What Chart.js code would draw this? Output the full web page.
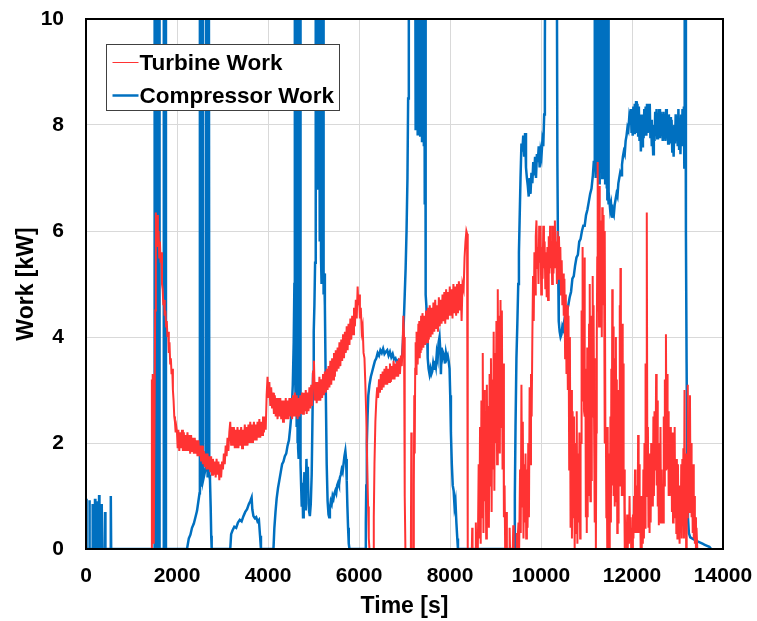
<!DOCTYPE html>
<html>
<head>
<meta charset="utf-8">
<script src="https://cdn.jsdelivr.net/npm/chart.js@4.4.1/dist/chart.umd.min.js"></script>
<style>
  html, body { margin: 0; padding: 0; background: #ffffff; }
  canvas { display: block; }
</style>
</head>
<body>
<canvas id="workChart" width="757" height="621"></canvas>
<script>
// Axis ticks
const timeTicks = [0, 2000, 4000, 6000, 8000, 10000, 12000, 14000];
const workTicks = [0, 2, 4, 6, 8, 10];

// Series labels
const seriesLabels = ['Turbine Work', 'Compressor Work'];

// Turbine work [time s, kW] : start-up and first steady phase
const turbineEarly = [
  [0,0],[1440,0],[1448,3.2],[1455,0.2],[1462,3.3],[1470,0.5],[1490,0.1],[1520,4.5],[1535,6.35],[1550,5.9],[1565,6.3],[1580,5.7],[1595,6.0],[1610,5.5],[1625,5.8],[1640,5.4],[1655,5.6],[1670,5.0],[1685,4.9],[1700,4.6],[1715,4.7],[1730,4.4],[1745,4.5],[1760,4.2],[1775,4.3],[1790,4.0],[1805,4.1],[1820,3.7],[1835,3.9],[1850,3.5],[1865,3.6],[1880,3.3],[1895,3.4],[1910,3.0],[1925,2.8],[1940,2.5],[1955,2.4],[1970,2.2],[1985,2.3],
  [2000,2.2],[2015,1.9],[2030,2.25],[2050,1.85],[2070,2.2],[2090,1.9],[2110,2.25],[2130,1.85],[2150,2.2],[2170,1.85],[2190,2.15],[2210,1.85],[2230,2.2],[2250,1.85],[2270,2.15],[2290,1.8],[2310,2.15],[2330,1.85],[2350,2.1],[2370,1.8],[2390,2.1],[2410,1.8],[2430,2.05],[2450,1.75],[2470,2.05],[2490,1.75],[2510,1.95],[2530,1.65],[2550,1.95],[2570,1.6],[2590,1.85],[2610,1.55],[2630,1.8],[2650,1.5],[2670,1.8],[2690,1.5],[2710,1.75],[2730,1.45],[2750,1.75],[2770,1.4],[2790,1.7],[2810,1.4],[2830,1.65],[2850,1.35],[2870,1.7],[2890,1.4],[2910,1.65],[2930,1.3],[2950,1.6],[2970,1.35],[2990,1.65],[3010,1.5],[3030,1.8],[3050,1.6],[3070,1.95],[3090,1.75],[3110,2.1],[3130,1.85],[3150,2.2],[3170,2.4],[3190,1.95],[3210,2.3],[3230,1.95],[3250,2.3],[3270,1.9],[3290,2.25],[3310,1.9],[3330,2.3],[3350,1.9],[3370,2.25],[3390,1.95],[3410,2.3],[3430,1.9],[3450,2.25],[3470,1.95],[3490,2.35],[3510,1.95],[3530,2.3],[3550,1.95],[3570,2.35],[3590,2.0],[3610,2.4],[3630,2.0],[3650,2.35],[3670,2.0],[3690,2.4],[3710,2.05],[3730,2.35],[3750,2.05],[3770,2.4],[3790,2.1],[3810,2.45],[3830,2.1],[3850,2.4],[3870,2.15],[3890,2.5],[3910,2.2],[3930,2.5],[3950,2.25],
  [3970,2.9],[3990,3.25],[4010,2.85],[4030,3.15],[4050,2.7],[4070,3.05],[4090,2.65],[4110,2.95],[4130,2.55],[4150,2.9],[4170,2.5],[4190,2.85],[4210,2.45],[4230,2.85],[4250,2.5],[4270,2.85],[4290,2.45],[4310,2.8],[4330,2.4],[4350,2.8],[4370,2.45],[4390,2.85],[4410,2.45],[4430,2.8],[4450,2.45],[4470,2.85],[4490,2.5],[4510,2.85],[4530,2.45],[4550,2.9],[4570,2.5],[4590,2.95],[4610,2.5],[4630,2.9],[4650,2.45],[4670,2.85],[4690,2.5],[4710,2.9],[4730,2.55],[4750,2.95],[4770,2.55],[4790,2.95],[4810,2.6],[4830,3.0],[4850,2.55],[4870,2.95],[4890,2.6],[4910,3.05],[4930,2.65],[4950,3.1],[4970,2.7],[4990,3.35],[5010,3.55],[5030,2.8],[5050,3.15],[5070,2.75],[5090,3.15],[5110,2.8],[5130,3.25],[5150,2.8],[5170,3.2],[5190,2.85],[5210,3.3],[5230,2.9],[5250,3.35],[5270,2.95],[5290,3.4],[5310,3.0],[5330,3.45],[5350,3.05],[5370,3.55],[5390,3.1],[5410,3.6],[5430,3.2],[5450,3.7],[5470,3.25],[5490,3.75],[5510,3.35],[5530,3.8],[5550,3.4],[5570,3.9],[5590,3.45],[5610,3.95],[5630,3.55],[5650,4.05],[5670,3.6],[5690,4.1],[5710,3.7],[5730,4.2],[5750,3.75],[5770,4.25],[5790,3.85],[5810,4.35],[5830,3.95],[5850,4.4],[5870,4.05],[5890,4.55],[5910,4.2],[5930,4.7],[5950,4.35],[5970,4.95],[5985,4.6],[6000,4.8],[6020,4.35],[6040,4.55],[6060,4.1],[6080,4.2],[6100,3.7],[6120,3.6],[6140,3.1],[6160,2.5],[6180,1.6],[6200,0.8],[6215,0.2],[6230,0]
];

// Turbine work : second and third steady phases
const turbineMid = [
  [6310,0],[6325,0.6],[6340,1.6],[6360,2.4],[6380,2.8],[6400,3.05],[6420,2.85],[6440,3.2],[6460,2.95],[6480,3.3],[6500,3.0],[6520,3.35],[6540,3.05],[6560,3.4],[6580,3.1],[6600,3.45],[6620,3.1],[6640,3.4],[6660,3.15],[6680,3.5],[6700,3.15],[6720,3.45],[6740,3.2],[6760,3.55],[6780,3.2],[6800,3.5],[6820,3.25],[6840,3.55],[6860,3.25],[6880,3.6],[6900,3.3],[6920,3.65],[6940,3.45],[6960,3.9],[6975,4.4],[6990,4.0],[7000,2.5],[7010,1.0],[7020,0],
  [7140,0],[7150,2.2],[7158,0],[7195,0],[7205,1.2],[7215,2.9],[7225,1.8],[7235,3.4],[7245,3.9],[7255,3.3],[7265,4.1],[7275,3.5],[7285,4.1],[7295,3.5],[7305,4.25],[7315,3.6],[7325,4.3],[7335,3.6],[7345,4.2],[7355,3.7],[7365,4.4],[7375,3.75],[7395,4.45],[7415,3.8],[7435,4.4],[7455,3.85],[7475,4.5],[7495,3.9],[7515,4.55],[7535,3.95],[7555,4.6],[7575,4.0],[7595,4.55],[7615,4.05],[7635,4.65],[7655,4.1],[7675,4.7],[7695,4.15],[7715,4.6],[7735,4.1],[7755,4.75],[7775,4.2],[7795,4.7],[7815,4.25],[7835,4.8],[7855,4.3],[7875,4.85],[7895,4.25],[7915,4.9],[7935,4.35],[7955,4.85],[7975,4.4],[7995,4.95],[8015,4.4],[8035,4.9],[8055,4.35],[8075,5.0],[8095,4.45],[8115,4.95],[8135,4.4],[8155,5.0],[8175,4.45],[8195,5.05],[8215,4.5],[8235,5.0],[8255,4.3],[8275,5.0],[8300,4.9],[8320,5.5],[8340,5.8],[8360,6.0],[8375,5.95],[8385,2.0],[8395,0]
];

// Turbine work : transient operation
const turbineLate = [
  [8480,0],[8488,0.4],[8496,0],[8560,0],[8568,0.5],[8576,0],[8612,0],
  [8630,1.6],[8645,0.2],[8660,2.3],[8675,0.1],[8690,2.8],[8705,0.6],[8720,3.7],[8735,0.3],[8750,3.0],[8765,0.9],[8780,2.6],[8795,0.2],[8810,3.1],[8825,1.0],[8840,2.7],[8855,0.4],[8870,3.3],[8885,1.2],[8900,3.6],[8915,0.7],[8930,3.2],[8945,1.5],[8960,4.1],[8975,1.1],[8990,3.7],[9005,2.0],[9020,4.3],[9035,1.6],[9050,4.9],[9065,2.2],[9080,4.4],[9095,1.8],[9110,4.7],[9125,2.3],[9140,4.5],[9155,1.5],[9170,3.5],[9185,0.6],[9200,1.2],[9212,0],
  [9236,0.7],[9250,0],[9300,0],[9310,0.4],[9320,0],[9380,0],[9390,0.45],[9400,0],[9460,0],[9468,0.3],[9476,0],
  [9490,0],[9505,0.5],[9520,0],[9540,1.5],[9555,0.3],[9570,3.1],[9585,0.8],[9600,2.4],[9615,0.2],[9630,1.6],[9645,0.5],[9660,1.8],[9675,0.2],[9690,1.5],[9705,0.4],[9720,2.0],[9735,0.6],[9750,3.05],[9765,1.6],[9780,3.3],[9795,2.5],
  [9810,4.0],[9825,5.15],[9840,4.3],[9855,5.6],[9870,4.8],[9885,5.9],[9900,6.2],[9915,5.3],[9930,5.7],[9945,5.0],[9960,6.1],[9975,5.4],[9990,6.1],[10005,4.8],[10020,5.7],[10035,5.1],[10050,6.1],[10065,5.3],[10080,5.8],[10095,4.9],[10110,5.6],[10125,4.75],[10140,5.7],[10155,4.7],[10170,5.9],[10185,5.2],[10200,6.1],[10215,5.3],[10230,5.8],[10245,5.0],[10260,6.1],[10275,5.2],[10290,5.9],[10305,6.2],[10320,5.3],[10335,5.8],[10350,5.0],[10365,6.0],[10380,5.1],[10395,5.9],[10410,5.2],[10425,5.7],[10440,4.8],[10455,5.45],[10470,4.6],[10485,5.2],[10500,4.4],[10515,5.1],[10530,3.6],[10545,4.8],[10560,3.3],[10575,4.6],[10590,3.0],[10605,4.4],[10620,1.5],[10635,4.0],[10650,0.4],[10665,3.0],[10680,0.2],[10695,2.6],[10710,0.6],[10725,2.5],[10740,0],[10755,2.0],[10770,0.3],[10785,2.6],[10800,0.1],[10815,1.8],[10830,0.5],[10845,2.2],[10860,0.2],[10870,2.0],
  [10880,2.0],[10892,4.5],[10904,2.8],[10914,5.7],[10925,3.0],[10936,4.8],[10946,2.6],[10956,5.5],[10966,2.5],[10976,3.4],[10986,0.6],[10996,2.9],[11006,0.3],[11016,3.8],[11026,0.6],[11036,3.5],[11046,1.0],[11056,4.25],[11066,1.2],[11076,5.0],[11086,0.9],[11096,4.4],[11106,1.3],[11116,3.8],[11126,2.5],[11136,5.15],[11146,2.6],[11156,4.6],[11166,2.5],[11176,3.6],[11186,0.5],[11196,3.0],[11206,0],[11216,2.2],[11226,4.0],[11236,5.5],[11246,7.3],[11256,4.5],[11266,6.5],[11276,4.2],[11286,6.85],[11296,4.6],[11306,6.0],[11316,4.4],[11326,6.2],[11336,4.0],[11346,6.45],[11356,4.6],[11366,6.3],[11376,4.6],[11386,5.5],[11396,2.0],[11406,6.0],[11416,2.0],[11426,2.3],[11436,0.6],[11446,1.5],[11456,0],[11466,2.3],[11476,0.2],[11486,1.8],[11496,0],[11506,1.4],[11516,0.3],[11526,2.5],[11536,0.5],[11546,3.4],[11556,1.2],[11566,4.9],[11576,1.6],[11586,4.2],[11596,1.0],[11606,3.6],[11616,0.8],[11626,3.6],[11636,1.5],[11646,4.0],[11656,0.9],[11666,3.2],[11676,0.3],[11686,2.0],[11696,0.5],[11706,3.0],[11716,1.2],[11726,4.6],[11736,1.4],[11746,5.3],[11756,1.5],[11766,4.2],[11776,1.0],[11786,4.25],[11796,1.3],[11806,3.5],[11816,1.0],[11826,1.5],[11836,0],[11846,0.8],[11856,0],[11866,0.3],[11880,0],[11894,0.65],[11906,0],[11920,0.5],[11934,0.1],[11946,1.0],[11958,0.2],[11970,0.6],[11982,0],[11996,0.4],[12008,0],[12020,0.65],[12032,0.2],[12044,1.0],[12056,0.3],[12066,1.5],[12078,0.4],[12088,0.9],[12100,0.3],[12112,1.2],[12124,0.3],[12134,2.15],[12146,0.5],[12156,1.6],[12168,0.3],[12178,1.0],[12190,0],[12202,0.6],[12214,0],[12226,1.0],[12238,0.1],[12250,1.5],[12262,0.2],[12274,2.0],[12286,0.4],[12298,3.5],[12310,1.0],[12325,6.35],[12338,1.2],[12350,2.3],[12362,0.4],[12374,1.6],[12386,0.3],[12398,1.8],[12410,0.5],[12422,2.0],[12434,0.8],[12446,1.6],[12458,0.8],[12470,2.5],[12482,1.0],[12494,2.6],[12506,1.5],[12518,1.7],[12530,3.3],[12542,1.2],[12554,2.8],[12566,0.8],[12578,1.8],[12590,0.45],[12602,2.0],[12614,0.5],[12626,2.3],[12638,0.5],[12650,1.5],[12662,0.6],[12674,1.0],[12686,0.5],[12698,2.5],[12710,1.2],[12722,3.2],[12734,1.5],[12746,4.05],[12758,1.8],[12770,3.3],[12782,1.5],[12794,2.6],[12806,1.0],[12818,2.2],[12830,1.0],[12842,2.3],[12854,1.2],[12866,2.2],[12878,0.7],[12890,1.8],[12902,0.5],[12914,2.2],[12926,0.9],[12938,2.3],[12950,0.6],[12962,1.6],[12974,0.3],[12986,1.7],[12998,0.2],[13010,1.6],[13022,0.3],[13034,1.0],[13046,0.1],[13058,1.2],[13070,0.3],[13082,1.6],[13094,0.2],[13106,1.7],[13118,0.5],[13130,1.9],[13142,0.2],[13154,3.0],[13166,0.5],[13178,1.6],[13190,0],[13202,1.8],[13214,0.6],[13226,3.1],[13238,0.8],[13250,2.3],[13262,0.7],[13274,2.9],[13286,0.9],[13298,2.0],[13310,0.6],[13322,1.6],[13334,0.3],[13346,1.6],[13358,0.2],[13370,1.0],[13382,0.1],[13394,0.6],[13406,0],[13418,0.4],[13435,0],[13760,0]
];

// Compressor work [time s, kW] : start-up and first surges
const compressorEarly = [
  [0,0],[8,0.95],[16,0],[68,0],[75,0.92],[83,0],[140,0],[147,0.85],[155,0],[190,0],[198,0.95],[206,0],[228,0],[236,0.9],[244,0],[280,0],[288,1.02],[296,0],[338,0],[346,0.85],[354,0],[412,0],[419,0.7],[427,0],[537,0],[545,1.0],[553,0],
  [1500,0],[1505,12],[1512,0],[1545,0],[1550,12],[1557,0],[1595,0],[1600,12],[1612,12],[1617,0],[1705,0],[1710,12],[1752,12],[1757,0],
  [2220,0],[2260,0.2],[2295,0.27],[2330,0.4],[2370,0.48],[2405,0.6],[2440,0.72],[2470,0.9],[2495,1.05],[2503,12],[2522,12],[2530,1.2],[2545,12],[2566,12],[2575,1.3],[2600,1.4],[2625,1.5],[2637,12],[2660,12],[2668,1.35],[2678,12],[2700,12],[2710,1.4],[2725,1.3],[2740,0.8],[2752,0.25],[2762,0],
  [3170,0],[3190,0.28],[3220,0.35],[3260,0.42],[3300,0.4],[3340,0.5],[3380,0.55],[3420,0.52],[3460,0.62],[3500,0.7],[3540,0.75],[3580,0.85],[3610,0.9],[3640,0.97],[3655,0.75],[3680,0.62],[3710,0.58],[3740,0.6],[3770,0.52],[3800,0.55],[3825,0.25],[3845,0],
  [4120,0],[4140,0.4],[4165,0.7],[4190,0.95],[4220,1.15],[4250,1.3],[4280,1.45],[4310,1.6],[4340,1.65],[4370,1.75],[4400,1.8],[4430,1.95],[4460,2.05],[4490,2.3],[4520,2.6],[4545,3.1],[4565,3.9],[4580,5.0],[4590,12],[4598,3.2],[4606,12],[4614,2.7],[4622,12],[4630,2.3],[4638,12],[4646,2.0],[4654,12],[4662,1.9],[4670,12],[4678,1.7],[4686,12],[4705,12],[4715,1.6],[4728,1.2],[4742,0.8],[4756,1.25],[4770,0.6],[4785,1.0],[4800,1.45],[4815,0.75],[4830,1.05],[4845,1.7],[4860,1.2],[4875,1.55],[4890,0.85],[4905,0.7],[4920,0.62],[4940,0.85],[4960,1.4],[4975,2.3],[4990,3.3],[5005,4.1],[5020,4.6],[5035,5.4],[5045,12],[5053,6.5],[5061,12],[5069,7.5],[5077,12],[5085,8.2],[5093,12],[5101,6.8],[5109,12],[5117,7.0],[5125,12],[5133,5.8],[5141,12],[5149,6.0],[5157,12],[5165,5.5],[5173,12],[5181,5.0],[5189,12],[5210,12],[5222,4.8],[5235,5.2],[5250,4.6],[5270,3.0],[5290,1.6],[5310,0.9],[5330,0.65],[5345,0.6],[5360,0.75],[5380,0.9],[5400,0.85],[5420,1.0],[5440,0.95],[5460,1.05],[5480,1.1],[5500,1.05],[5520,1.2],[5540,1.25],[5560,1.2],[5580,1.35],[5600,1.4],[5620,1.5],[5640,1.45],[5660,1.6],[5680,1.75],[5700,1.85],[5715,1.7],[5730,1.3],[5745,0.8],[5760,0.4],[5775,0.1],[5790,0]
];

// Compressor work : middle phases
const compressorMid = [
  [6140,0],[6150,0.5],[6160,1.2],[6172,2.0],[6188,2.5],[6205,2.9],[6230,3.1],[6260,3.25],[6290,3.35],[6320,3.45],[6350,3.55],[6380,3.6],[6410,3.7],[6440,3.65],[6470,3.75],[6500,3.7],[6530,3.78],[6560,3.68],[6590,3.72],[6620,3.75],[6650,3.65],[6680,3.72],[6710,3.62],[6740,3.68],[6770,3.58],[6800,3.6],[6830,3.52],[6860,3.56],[6890,3.48],[6920,3.52],[6945,3.6],[6965,3.9],[6985,4.3],[7005,4.8],[7025,5.3],[7045,6.0],[7065,7.0],[7080,8.5],[7095,12],[7235,12],[7245,7.9],[7255,12],[7265,8.0],[7275,12],[7285,7.8],[7295,12],[7305,7.9],[7315,12],[7325,7.85],[7335,12],[7345,7.8],[7355,12],[7365,7.9],[7375,12],[7385,7.7],[7395,12],[7405,7.8],[7415,12],[7425,7.6],[7435,12],[7445,6.5],[7455,12],[7465,4.8],[7480,4.6],[7495,4.2],[7510,3.6],[7530,3.4],[7550,3.3],[7570,3.4],[7590,3.3],[7610,3.35],[7630,3.5],[7650,3.4],[7670,3.55],[7690,3.45],[7710,3.7],[7730,3.6],[7750,3.9],[7770,4.0],[7790,3.7],[7800,3.3],[7815,3.8],[7830,3.6],[7850,3.7],[7870,3.65],[7890,3.5],[7910,3.7],[7930,3.6],[7950,3.65],[7970,3.55],[7990,3.4],[8005,2.9],[8020,2.2],[8040,1.6],[8060,1.2],[8080,1.1],[8100,0.8],[8120,0.9],[8140,0.5],[8160,0.2],[8175,0]
];

// Compressor work : high-load phase and shut-down
const compressorLate = [
  [9410,0],[9425,1.0],[9440,2.3],[9460,3.6],[9480,4.25],[9500,5.0],[9515,5.6],[9530,6.2],[9550,7.0],[9570,7.65],[9590,7.5],[9610,7.8],[9630,7.4],[9650,7.85],[9670,7.2],[9690,7.0],[9710,6.85],[9730,6.65],[9750,7.0],[9770,6.7],[9790,7.1],[9810,6.9],[9830,7.3],[9850,7.05],[9870,7.4],[9890,7.0],[9910,7.45],[9930,7.3],[9950,7.6],[9970,7.2],[9990,7.5],[10010,7.4],[10030,7.7],[10050,7.6],[10070,8.2],[10085,9.5],[10095,12],[10345,12],[10360,7.3],[10375,5.5],[10390,4.3],[10410,4.1],[10430,4.0],[10450,4.05],[10470,4.2],[10490,4.15],[10510,4.3],[10530,4.4],[10550,4.35],[10570,4.5],[10600,4.6],[10630,4.75],[10660,4.85],[10690,5.1],[10720,5.15],[10750,5.35],[10780,5.5],[10810,5.55],[10840,5.8],[10870,5.85],[10900,6.0],[10930,6.1],[10960,6.1],[10990,6.3],[11020,6.4],[11050,6.55],[11080,6.7],[11110,6.8],[11140,7.05],[11160,7.3],
  [11170,7.3],[11178,12],[11186,7.2],[11194,12],[11202,7.0],[11210,12],[11218,7.3],[11226,12],[11234,7.1],[11242,12],[11250,7.25],[11258,12],[11266,7.0],[11274,12],[11282,6.9],[11290,12],[11298,7.2],[11306,12],[11314,7.1],[11322,12],[11330,7.3],[11338,12],[11346,7.0],[11354,12],[11362,7.2],[11370,12],[11378,7.0],[11386,12],[11394,7.15],[11402,12],[11410,6.9],[11418,12],[11426,7.0],[11434,12],[11442,6.8],[11450,12],[11458,6.6],[11466,12],[11474,6.7],[11482,12],[11490,6.5],
  [11500,6.6],[11520,6.4],[11540,6.5],[11560,6.25],[11580,6.35],[11600,6.3],[11620,6.5],[11640,6.6],[11660,6.7],[11680,6.65],[11700,6.9],[11720,7.0],[11740,7.1],[11760,7.05],[11780,7.25],[11800,7.4],[11820,7.5],[11840,7.45],[11860,7.7],[11880,7.8],[11900,7.95],[11920,7.9],[11940,8.15],[11960,8.05],[11975,8.3],[11990,7.85],
  [12000,8.3],[12015,7.8],[12030,8.35],[12045,7.85],[12060,8.4],[12075,7.9],[12090,8.45],[12105,7.85],[12120,8.4],[12135,7.8],[12150,8.35],[12165,7.7],[12180,8.2],[12195,7.5],[12210,8.0],[12225,7.6],[12240,8.2],[12255,7.75],[12270,8.3],[12285,7.8],[12300,8.35],[12315,7.8],[12330,8.4],[12345,7.85],[12360,8.3],[12375,7.9],[12390,8.4],[12405,7.75],[12420,8.1],[12435,7.6],[12450,7.9],[12465,7.45],[12480,8.0],[12495,7.7],[12510,8.25],[12525,7.8],[12540,8.3],[12555,7.75],[12570,8.2],[12585,7.8],[12600,8.3],[12615,7.75],[12630,8.25],[12645,7.8],[12660,8.2],[12675,7.7],[12690,8.25],[12705,7.75],[12720,8.2],[12735,7.7],[12750,8.3],[12765,7.75],[12780,8.15],[12795,7.65],[12810,8.2],[12825,7.7],[12840,8.15],[12855,7.65],[12870,8.1],[12885,7.5],[12900,7.9],[12915,7.4],[12930,8.0],[12945,7.65],[12960,8.2],[12975,7.7],[12990,8.15],[13005,7.6],[13020,8.3],[13035,7.55],[13050,8.1],[13065,7.45],[13080,8.2],[13095,7.6],[13110,8.3],[13125,7.7],[13140,8.35],[13150,7.2],
  [13158,12],[13170,12],[13185,6.0],[13200,3.5],[13215,1.5],[13230,0.6],[13250,0.3],[13280,0.22],[13320,0.2],[13360,0.18],[13400,0.16],[13450,0.14],[13500,0.12],[13550,0.1],[13600,0.08],[13650,0.06],[13700,0.04],[13740,0]
];

const toPoints = (...parts) => parts.flat().map(([x, y]) => ({ x, y }));

const FONT = '"Liberation Sans", Arial, Helvetica, sans-serif';

// Plot frame and in-plot key box
const frameAndKey = {
  id: 'frameAndKey',
  afterDraw(chart) {
    const { ctx, chartArea: a } = chart;
    ctx.save();
    ctx.strokeStyle = '#000000';
    ctx.lineWidth = 2;
    ctx.strokeRect(a.left, a.top, a.right - a.left, a.bottom - a.top);

    const bx = a.left + 20.5, by = a.top + 25.5, bw = 233, bh = 66;
    ctx.fillStyle = '#ffffff';
    ctx.fillRect(bx, by, bw, bh);
    ctx.strokeStyle = '#404040';
    ctx.lineWidth = 1;
    ctx.strokeRect(bx, by, bw, bh);

    ctx.font = 'bold 22.5px ' + FONT;
    ctx.textBaseline = 'middle';
    ctx.textAlign = 'left';
    chart.data.datasets.forEach((ds, i) => {
      const y = by + 18 + i * 33;
      ctx.strokeStyle = ds.borderColor;
      ctx.lineWidth = i === 0 ? 1 : 2.5;
      ctx.beginPath();
      ctx.moveTo(bx + 6, y);
      ctx.lineTo(bx + 32, y);
      ctx.stroke();
      ctx.fillStyle = '#000000';
      ctx.fillText(ds.label, bx + 33, y + 1);
    });
    ctx.restore();
  }
};

// Keep the plot rectangle fixed: no extra room for overhanging tick labels
const noOverhang = s => { s.paddingTop = 0; s.paddingBottom = 0; s.paddingLeft = 0; s.paddingRight = 0; };

new Chart(document.getElementById('workChart'), {
  type: 'line',
  data: {
    datasets: [
      {
        label: seriesLabels[0],
        data: toPoints(turbineEarly, turbineMid, turbineLate),
        borderColor: '#ff3333',
        borderWidth: 2,
        pointRadius: 0,
        tension: 0
      },
      {
        label: seriesLabels[1],
        data: toPoints(compressorEarly, compressorMid, compressorLate),
        borderColor: '#0070c0',
        borderWidth: 2.5,
        pointRadius: 0,
        tension: 0
      }
    ]
  },
  options: {
    responsive: false,
    animation: false,
    devicePixelRatio: 1,
    layout: { padding: { top: 19, right: 34, left: 0, bottom: 0 } },
    plugins: { legend: { display: false }, tooltip: { enabled: false } },
    scales: {
      x: {
        type: 'linear',
        min: timeTicks[0],
        max: timeTicks[timeTicks.length - 1],
        afterBuildTicks: s => { s.ticks = timeTicks.map(v => ({ value: v })); },
        afterFit: s => { s.height = 72; noOverhang(s); },
        ticks: {
          color: '#000000',
          font: { family: FONT, size: 21, weight: 'bold' },
          padding: 15,
          maxRotation: 0,
          autoSkip: false,
          callback: v => String(v)
        },
        grid: { color: '#d9d9d9', lineWidth: 1, drawTicks: false },
        border: { display: false },
        title: {
          display: true,
          text: 'Time [s]',
          color: '#000000',
          font: { family: FONT, size: 23, weight: 'bold' },
          padding: { top: 0, bottom: 1 }
        }
      },
      y: {
        min: workTicks[0],
        max: workTicks[workTicks.length - 1],
        afterBuildTicks: s => { s.ticks = workTicks.map(v => ({ value: v })); },
        afterFit: s => { s.width = 86; noOverhang(s); },
        ticks: {
          color: '#000000',
          font: { family: FONT, size: 21, weight: 'bold' },
          padding: 22,
          callback: v => String(v)
        },
        grid: { color: '#d9d9d9', lineWidth: 1, drawTicks: false },
        border: { display: false },
        title: {
          display: true,
          text: 'Work [kW]',
          color: '#000000',
          font: { family: FONT, size: 23, weight: 'bold' },
          padding: { top: 13, bottom: 0 }
        }
      }
    }
  },
  plugins: [frameAndKey]
});
</script>
</body>
</html>
